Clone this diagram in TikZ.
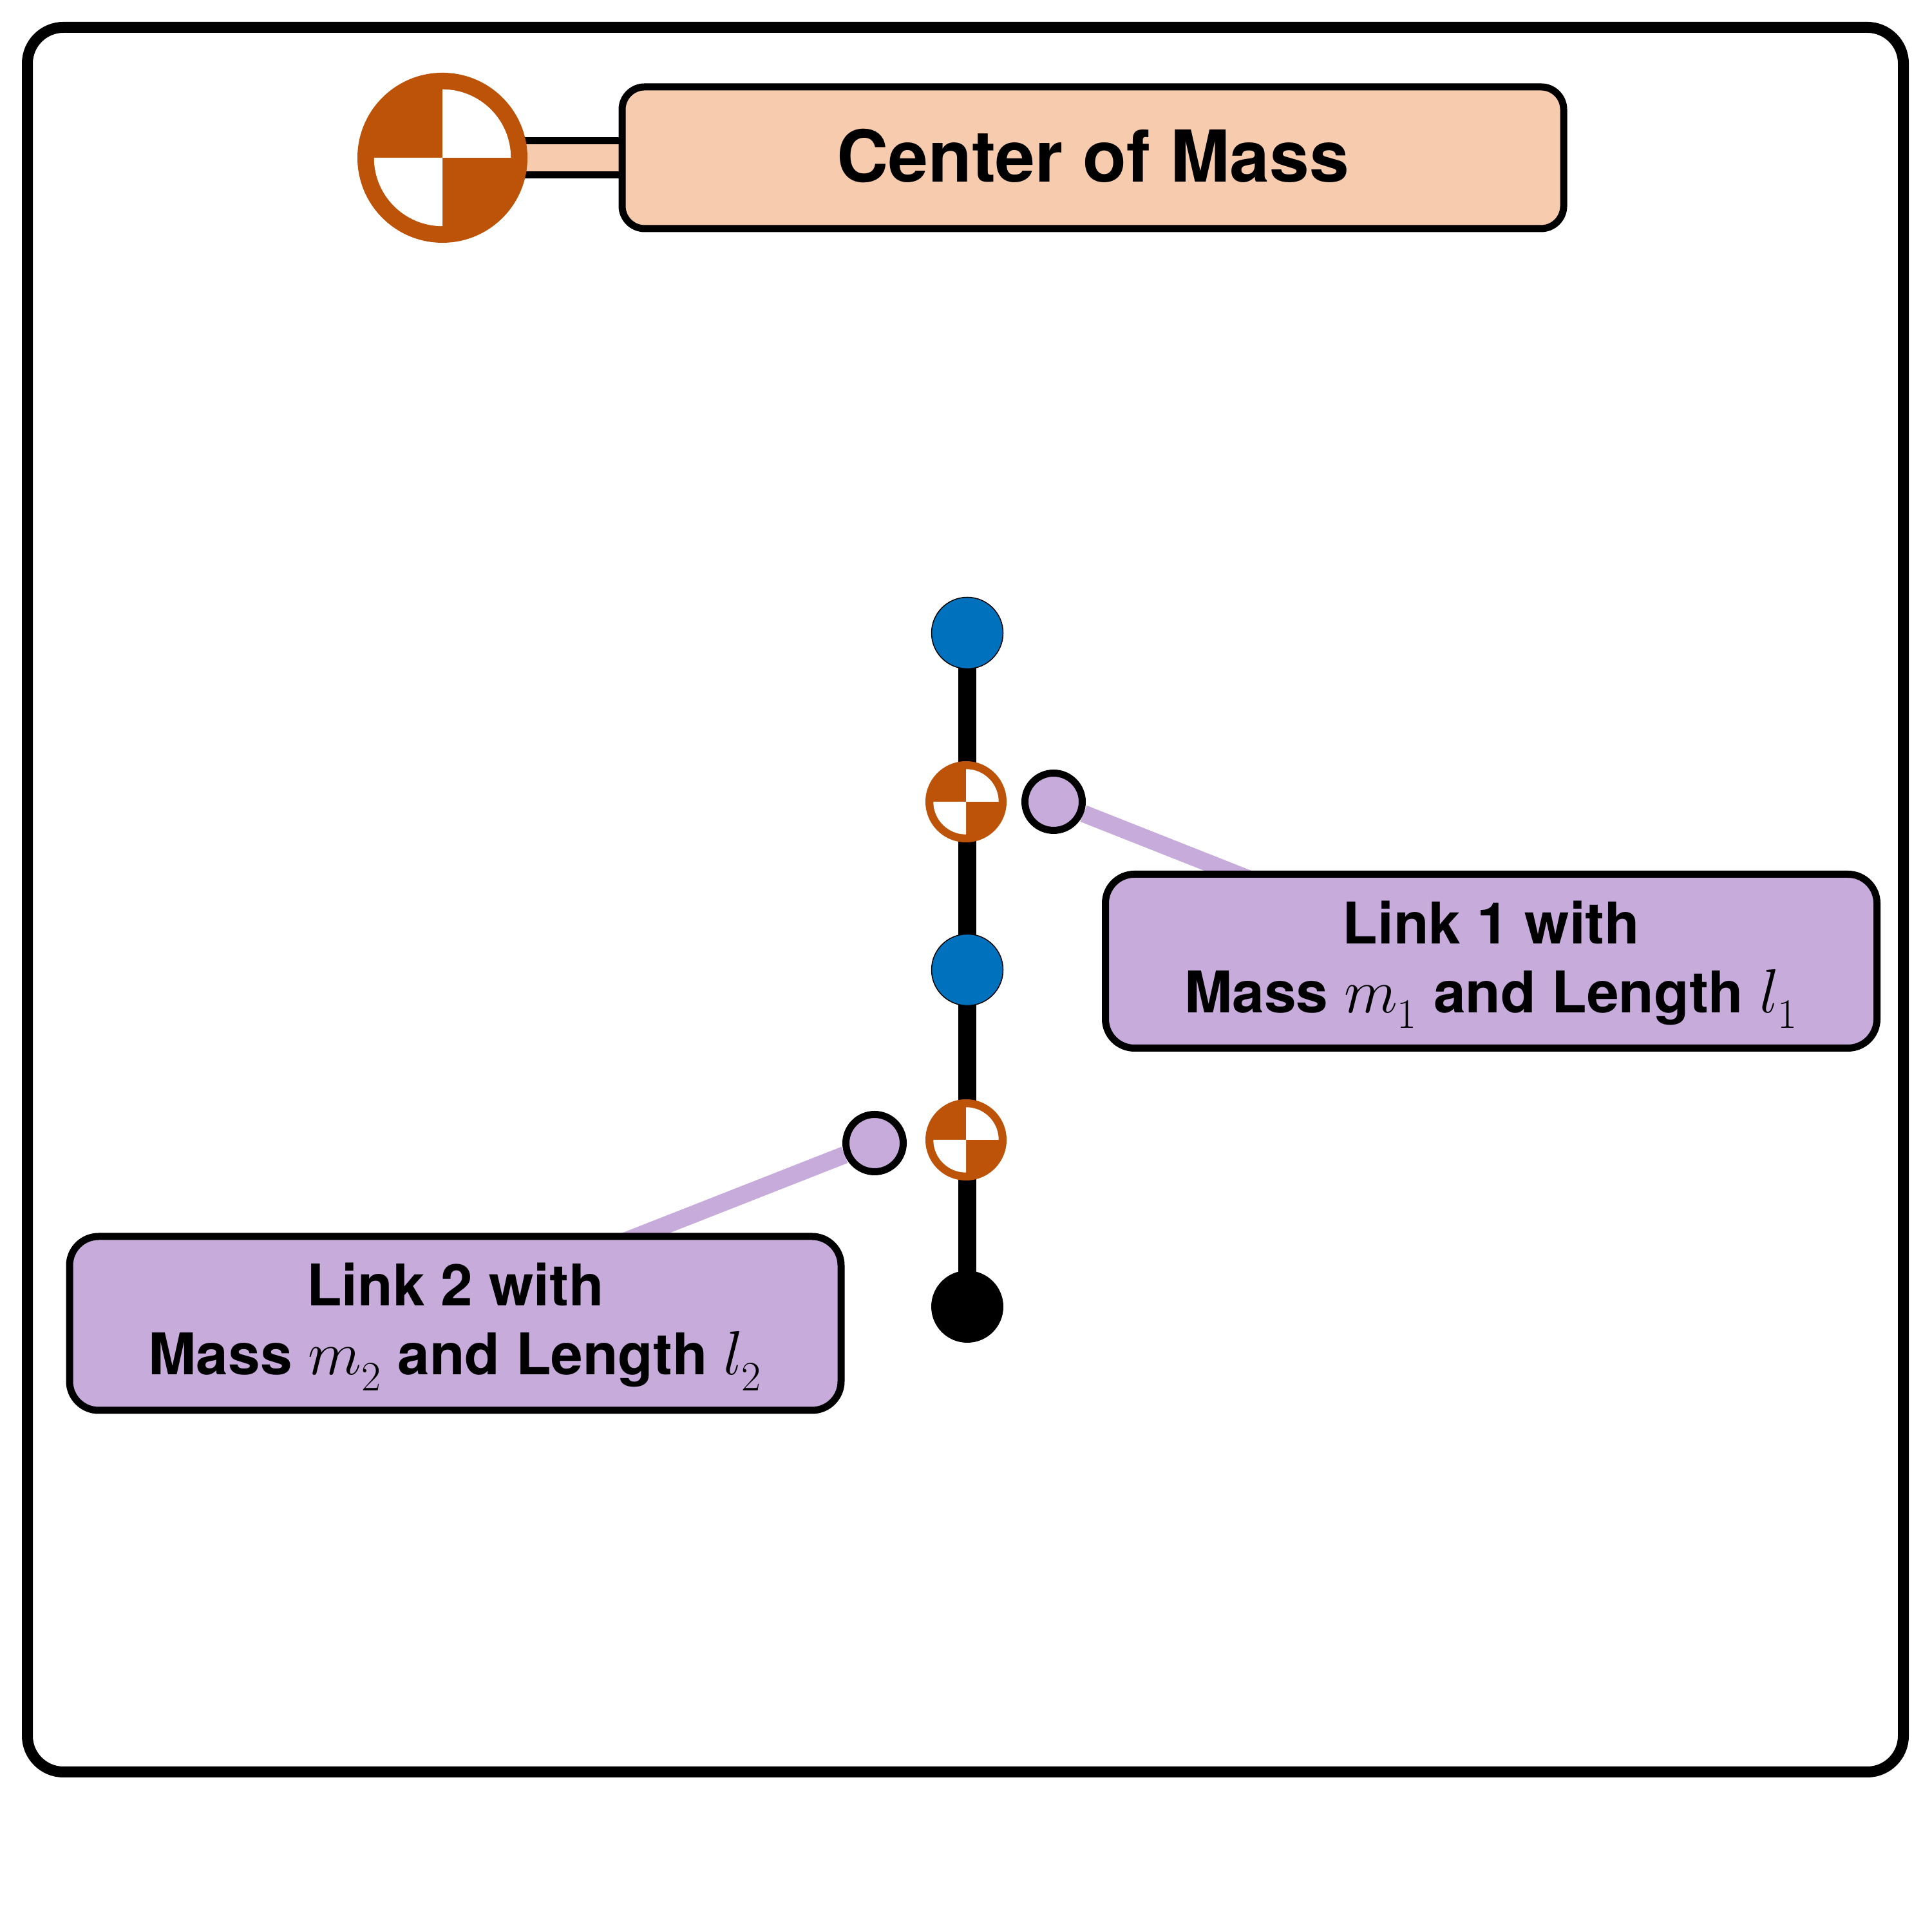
\documentclass[tikz,border=0pt]{standalone}
\usepackage{fix-cm}
\usepackage{fontspec}
\setmainfont{TeX Gyre Heros}
\usepackage{tikz}
\usetikzlibrary{backgrounds}
\definecolor{comorange}{HTML}{BC5308}
\definecolor{jointblue}{HTML}{0072BD}
\definecolor{linkpurple}{HTML}{C6ABDB}
\definecolor{compeach}{HTML}{F7CCAE}
\newcommand{\linkvar}[2]{{\fontsize{27.5}{30.5}\selectfont$#1_{\raisebox{-2.8pt}{\fontsize{18.5}{20}\selectfont$#2$}}$}}
\tikzset{
  frame/.style={draw=black, rounded corners=5.6mm, line width=1.7mm, minimum width=29.13cm,
                minimum height=27.09cm, inner sep=0pt},
  joint/.style={circle, draw=black, fill=jointblue, line width=0.15mm, minimum size=11.1mm, inner sep=0pt},
  tipjoint/.style={circle, fill=black, minimum size=11.2mm, inner sep=0pt},
  com/.style={circle, fill=comorange, minimum size=2*#1 cm, inner sep=0pt,
    path picture={
      \fill[white] (path picture bounding box.center) -- ++(0.805*#1 cm,0) arc (0:90:0.805*#1 cm) -- cycle;
      \fill[white] (path picture bounding box.center) -- ++(-0.805*#1 cm,0) arc (180:270:0.805*#1 cm) -- cycle;
    }},
  tag/.style={circle, draw=black, fill=linkpurple, line width=1.1mm, minimum size=8.9mm, inner sep=0pt},
  linkbox/.style={draw=black, fill=linkpurple, rounded corners=4.5mm, line width=1.1mm, minimum width=11.98cm,
                  minimum height=2.70cm, inner sep=0pt, align=center, text height=52.4pt,
                  font=\fontsize{25.4}{30.5}\selectfont\bfseries},
  combox/.style={draw=black, fill=compeach, rounded corners=3.5mm, line width=1.1mm, minimum width=14.62cm,
                 minimum height=2.20cm, inner sep=0pt, text depth=2pt, font=\fontsize{31.6}{36}\selectfont\bfseries},
  link/.style={draw=black, line width=2.8mm},
  leader/.style={draw=linkpurple, line width=2.7mm},
  combar/.style={draw=black, line width=1.1mm, double=compeach, double distance=4.2mm},
}
\begin{document}
\begin{tikzpicture}
  \useasboundingbox (0,0) rectangle (30,30);
  \node[frame] (outer) at (14.99,16.03) {};

  % legend
  \node[com=1.32] (comBig) at (6.87,27.55) {};
  \node[combox] (comText) at (16.97,27.55) {Center of Mass};

  % pendulum
  \node[joint] (jointA) at (15.02,20.17) {};
  \node[com=0.63] (comA) at (15.00,17.55) {};
  \node[joint] (jointB) at (15.02,14.94) {};
  \node[com=0.63] (comB) at (15.00,12.30) {};
  \node[tipjoint] (tip) at (15.02,9.71) {};

  % link labels
  \node[tag] (tagA) at (16.36,17.55) {};
  \node[tag] (tagB) at (13.58,12.25) {};
  \node[linkbox] (boxA) at (23.155,15.075) {Link 1 with\\Mass \linkvar{m}{1} and Length \linkvar{l}{1}};
  \node[linkbox] (boxB) at (7.07,9.45) {Link 2 with\\Mass \linkvar{m}{2} and Length \linkvar{l}{2}};
  \coordinate (leadA) at (20.00,16.11);
  \coordinate (leadB) at (9.00,10.45);

  \begin{scope}[on background layer]
    \draw[combar] (comBig.center) -- (comText.center);
    \draw[link] (jointA.center) -- (jointB.center);
    \draw[link] (jointB.center) -- (tip.center);
    \foreach \u/\v in {tagA/leadA,tagB/leadB} \draw[leader] (\u) -- (\v);
  \end{scope}
\end{tikzpicture}
\end{document}
